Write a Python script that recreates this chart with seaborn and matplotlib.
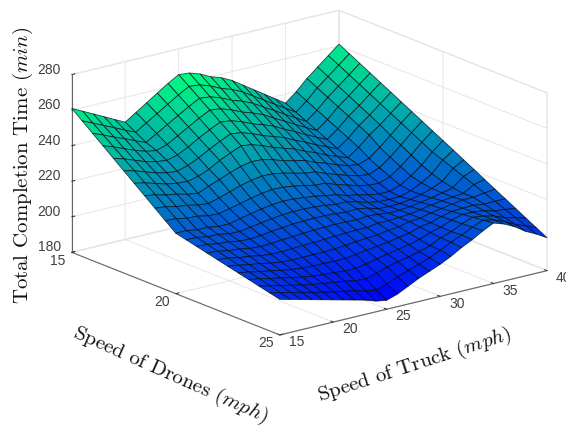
import numpy as np
import pandas as pd
import matplotlib
matplotlib.use("Agg")
import matplotlib.pyplot as plt
import seaborn as sns

truck_speed = np.arange(15, 41)
drone_speed = np.arange(15, 25.5, 0.5)
z_ticks = [180, 200, 220, 240, 260, 280]
x_ticks = [15, 20, 25, 30, 35, 40]
y_ticks = [15, 20, 25]

# completion time, one row per drone speed
completion_time = [
    [261, 258, 255, 252, 249, 246, 250, 254, 258, 262, 265.5, 265, 263, 260, 258, 255, 251, 247, 243, 239, 235, 240, 246, 251, 256, 261],
    [256.3, 253.6, 250.8, 248.1, 245.3, 242.6, 246.4, 250.2, 254, 257.8, 261.2, 260.6, 258.6, 255.7, 253.7, 250.9, 247.1, 243.4, 239.6, 235.9, 232.2, 237.1, 243, 247.9, 252.9, 257.9],
    [251.6, 249.2, 246.6, 244.2, 241.6, 239.2, 242.8, 246.4, 250, 253.6, 256.8, 256.2, 254.2, 251.4, 249.4, 246.8, 243.2, 239.8, 236.2, 232.8, 229.4, 234.2, 240, 244.8, 249.8, 254.8],
    [246.9, 244.8, 242.4, 240, 238, 237, 239, 242.4, 246, 249.4, 252.5, 251.8, 249.8, 247.1, 245.1, 242.7, 239.3, 236.2, 232.8, 229.7, 226.6, 231.3, 237, 241.7, 246.7, 251.7],
    [242.2, 240.4, 238.2, 236, 234.5, 233.8, 235.4, 238.4, 242, 245.2, 248.1, 247.4, 245.4, 242.8, 240.8, 238.6, 235.4, 232.6, 229.4, 226.6, 223.8, 228.4, 234, 238.6, 243.6, 248.6],
    [237.5, 236, 234, 232, 230.6, 230, 231.8, 234.6, 238, 241, 243.8, 243, 241, 238.5, 236.5, 234.5, 231.5, 229, 226, 223.5, 221, 225.5, 231, 235.5, 240.5, 245.5],
    [232.8, 231.6, 229.8, 228, 227, 226.6, 228, 230.6, 234, 236.8, 239.4, 238.6, 236.6, 234.2, 232.2, 230.4, 227.6, 225.4, 222.6, 220.4, 218.2, 222.6, 228, 232.4, 237.4, 242.4],
    [228.1, 227.2, 225.6, 224.7, 223.1, 222.2, 224.8, 227, 229.5, 231.5, 232.8, 232.5, 231, 229, 227.5, 226.3, 223.7, 221.8, 219.4, 217.6, 216.6, 218.8, 223.5, 228.8, 234.3, 239.3],
    [223.4, 222.8, 221.4, 220.8, 219.4, 218.8, 220.5, 222.5, 224.5, 226, 227, 226.8, 225.8, 224.3, 222.8, 222.2, 219.8, 217.8, 215.8, 214.2, 213.4, 215.8, 220.3, 225.6, 231.2, 236.2],
    [218.7, 218.4, 217.2, 216.9, 215.7, 215.4, 216.8, 218.2, 219.7, 221, 221.8, 221.6, 220.8, 219.7, 218.4, 218.1, 215.9, 214.2, 212.4, 211.2, 210.8, 213.1, 217.3, 222.4, 228.1, 233.1],
    [214, 214, 213, 213, 212, 212, 213.5, 214.7, 216, 217, 217.5, 217.3, 216.7, 216, 214.8, 214, 212, 211, 209.5, 208.6, 208.6, 210.6, 214.4, 219, 225, 230],
    [212.6, 212.5, 211.4, 211.3, 210.2, 210, 211, 212, 212.9, 213.6, 214, 214, 213.7, 213.2, 212.3, 212.3, 210.8, 209, 208, 207.8, 208, 209.8, 212.8, 216.5, 222.7, 226.9],
    [211.2, 210.9, 209.8, 209.5, 208.4, 208.1, 208.7, 209.5, 210.1, 210.7, 211, 211.2, 211.1, 210.8, 210.2, 210.6, 209.6, 207.8, 207.6, 207.8, 208.6, 210, 212, 214.5, 220.4, 223.7],
    [209.8, 209.4, 208.2, 207.8, 206.6, 206.2, 206.5, 207, 207.4, 207.9, 208.2, 208.5, 208.6, 208.5, 208.2, 208.9, 208.4, 207.6, 207.8, 208.4, 209.4, 210.5, 211.8, 213.2, 218.1, 220.6],
    [208.4, 207.8, 206.6, 206, 204.8, 204.2, 204.2, 204.5, 204.8, 205, 205.3, 205.7, 206, 206.2, 206.2, 207.2, 207.2, 207.5, 208, 209, 210.2, 211.1, 211.8, 212.4, 215.8, 217.4],
    [207, 206.2, 205, 204.2, 203, 202.2, 201.8, 201.9, 202, 202, 202.3, 202.8, 203.4, 204, 204.4, 205.5, 206, 207.5, 208, 209.5, 210.5, 211.5, 212.5, 212.5, 213.5, 214.2],
    [205.6, 204.7, 203.4, 202.5, 201.2, 200.3, 199.6, 199.4, 199.3, 199.1, 199.3, 200, 200.9, 201.8, 202.6, 203.8, 204.8, 206.8, 207.8, 209.8, 211.2, 211.6, 211.8, 211, 211.2, 211.1],
    [204.2, 203.2, 201.8, 200.8, 199.4, 198.4, 197.4, 196.9, 196.5, 196, 196, 197, 198.4, 199.8, 200.9, 202.1, 203.6, 206.1, 207.6, 210.1, 211.9, 211.7, 211.1, 209.5, 208.9, 208],
    [202.8, 201.6, 200.2, 199, 197.6, 196.5, 195.6, 194.8, 194, 192.8, 192.4, 194.2, 196.2, 197.8, 199, 200.4, 202.4, 205.4, 207.4, 210.4, 212.6, 211.8, 210.4, 208, 206.6, 204.8],
    [201.4, 200, 198.6, 197.3, 195.8, 194.5, 193.3, 192.1, 191, 189.4, 188.4, 190.4, 193, 195.2, 197.2, 199.4, 202.2, 205.2, 207.8, 210.8, 213.3, 211.9, 209.7, 206.5, 204.3, 201.7],
    [200, 198.5, 197, 195.5, 194, 192.5, 191, 189.5, 188, 186, 185, 187, 190, 193, 195.5, 198, 201, 204.5, 207.5, 211, 214, 212, 209, 205, 202, 198.5],
]

df = pd.DataFrame(completion_time, index=drone_speed, columns=truck_speed)

sns.set_theme(style="white")
plt.rcParams["mathtext.fontset"] = "cm"
plt.rcParams["axes.unicode_minus"] = False

fig = plt.figure(figsize=(5.66, 4.29), dpi=100)
# square axes bigger than the figure so the surface is not clipped
ax = fig.add_axes([-9 / 566, -62 / 429, 620 / 566, 620 / 429], projection="3d")
ax.set_proj_type("ortho")
ax.view_init(elev=18, azim=-127.9)
ax.set_box_aspect((337, 337, 186), zoom=0.805)

X, Y = np.meshgrid(df.columns.values, df.index.values)
cmap = sns.color_palette("winter", as_cmap=True)
ax.plot_surface(X, Y, df.values, rstride=1, cstride=1, cmap=cmap, vmin=185, vmax=265.5,
                edgecolor=(0, 0, 0, 0.7), linewidth=0.6, shade=False, antialiased=True)

ax.set_xlim(15, 40)
ax.set_ylim(25, 15)
ax.set_zlim(180, 280)
ax.set_xticks(x_ticks)
ax.set_yticks(y_ticks)
ax.set_zticks(z_ticks)

for axis in [ax.xaxis, ax.yaxis, ax.zaxis]:
    axis.set_pane_color((1, 1, 1, 1))
    axis.pane.set_edgecolor("#e6e6e6")
    axis.line.set_color("#666666")
    axis.line.set_linewidth(0.8)
    axis._axinfo["grid"]["color"] = "#e8e8e8"
    axis._axinfo["grid"]["linewidth"] = 0.8
    axis._axinfo["tick"]["color"] = "#555555"
    axis._axinfo["tick"]["linewidth"] = {True: 0.7, False: 0.7}
    axis._axinfo["tick"]["inward_factor"] = 0.0
    axis._axinfo["tick"]["outward_factor"] = 0.15

ax.tick_params(labelsize=10, labelcolor="#404040", pad=0)
ax.xaxis.set_tick_params(pad=2)
ax.yaxis.set_tick_params(pad=4)
ax.zaxis.set_tick_params(pad=3)
for lab in ax.get_xticklabels() + ax.get_yticklabels() + ax.get_zticklabels():
    lab.set_fontfamily("Liberation Sans")
    lab.set_va("baseline")
for lab in ax.get_xticklabels():
    lab.set_ha("left")

def label(px, py, txt, rot):
    fig.text(px / 566, 1 - py / 429, txt, rotation=rot, rotation_mode="anchor",
             ha="center", va="center", family="cmr10", fontsize=15, color="#111111")

label(23, 165, r"Total Completion Time $(min)$", 90)
label(170, 375, r"Speed of Drones $(mph)$", -24)
label(415, 365, r"Speed of Truck $(mph)$", 18)

fig.savefig("out.png", dpi=100)
